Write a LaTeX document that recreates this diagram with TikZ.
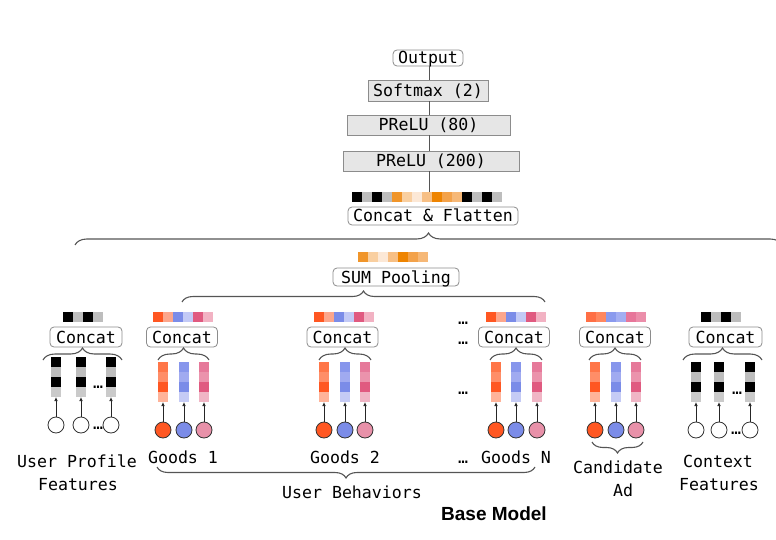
\documentclass[tikz,border=0pt]{standalone}
\usepackage{fontspec}
\setmainfont{DejaVu Sans Mono}
\newfontfamily\basefont{Liberation Sans}
\usetikzlibrary{decorations.pathreplacing,arrows.meta}
\definecolor{lineg}{HTML}{555555}
\definecolor{boxb}{HTML}{8C8C8C}
\definecolor{boxf}{HTML}{E6E6E6}
\definecolor{gy}{HTML}{BDBDBD}
\definecolor{gyl}{HTML}{CACACA}
\definecolor{o1}{HTML}{F0952A}
\definecolor{o2}{HTML}{F9CFA0}
\definecolor{o3}{HTML}{FCE8D6}
\definecolor{o4}{HTML}{F7BF84}
\definecolor{o5}{HTML}{EE8400}
\definecolor{o6}{HTML}{F3A24A}
\definecolor{o7}{HTML}{F6B877}
\definecolor{r1}{HTML}{FF5722}
\definecolor{r2}{HTML}{FCA68C}
\definecolor{b1}{HTML}{7B8CE8}
\definecolor{b2}{HTML}{C3CAF6}
\definecolor{p1}{HTML}{E05A80}
\definecolor{p2}{HTML}{F2B2C3}
\definecolor{ca1}{HTML}{FF6F45}
\definecolor{ca2}{HTML}{FF875F}
\definecolor{ca3}{HTML}{8A9AEE}
\definecolor{ca4}{HTML}{A3AEF2}
\definecolor{ca5}{HTML}{E7769A}
\definecolor{ca6}{HTML}{EB8EAA}
\definecolor{oc1}{HTML}{FF7648}
\definecolor{oc2}{HTML}{FF8E68}
\definecolor{oc3}{HTML}{FF5722}
\definecolor{oc4}{HTML}{FFB399}
\definecolor{bc1}{HTML}{8796EC}
\definecolor{bc2}{HTML}{A0AAF0}
\definecolor{bc3}{HTML}{7B8CE8}
\definecolor{bc4}{HTML}{C5CBF5}
\definecolor{pc1}{HTML}{E6799A}
\definecolor{pc2}{HTML}{EB93AC}
\definecolor{pc3}{HTML}{E05A80}
\definecolor{pc4}{HTML}{F0B5C5}
\definecolor{cr}{HTML}{FF5722}
\definecolor{cb}{HTML}{7B8CE8}
\definecolor{cp}{HTML}{E891A9}
\newcommand\myrow[3]{\foreach \cc [count=\ii from 0] in {#3} {\fill[fill=\cc] ({#1+10*\ii},#2) rectangle ++(10,10);}}
\newcommand\mycol[3]{\foreach \cc [count=\ii from 0] in {#3} {\fill[fill=\cc] (#1,{#2+10*\ii}) rectangle ++(10,10);}}
\newcommand\goodsgroup[9]{%
  \myrow{#2}{312}{#9}
  \node[rbox, minimum width=71pt, minimum height=20pt] (#1cc) at (#3,337) {Concat};
  \draw[brc=12] (#4,360) -- (#5,360);
  \mycol{#6}{362}{oc1,oc2,oc3,oc4}
  \mycol{#7}{362}{bc1,bc2,bc3,bc4}
  \mycol{#8}{362}{pc1,pc2,pc3,pc4}
  \node[fcirc, fill=cr] (#1a) at ({#6+5},430) {};
  \node[fcirc, fill=cb] (#1b) at ({#7+5},430) {};
  \node[fcirc, fill=cp] (#1c) at ({#8+5},430) {};
  \coordinate (#1at) at ({#6+5},402);
  \coordinate (#1bt) at ({#7+5},402);
  \coordinate (#1ct) at ({#8+5},402);
  \draw[arr] (#1a) -- (#1at);
  \draw[arr] (#1b) -- (#1bt);
  \draw[arr] (#1c) -- (#1ct);
}
\begin{document}
\begin{tikzpicture}[x=1pt,y=-1pt,
  font=\fontsize{16.6}{20}\selectfont,
  rbox/.style={draw=boxb, line width=0.8pt, rounded corners=4pt, fill=white, inner sep=0pt, text height=12pt, text depth=0pt},
  gbox/.style={draw=boxb, fill=boxf, line width=0.8pt, inner sep=0pt, text height=12pt, text depth=0pt},
  conn/.style={draw=lineg, line width=0.8pt},
  arr/.style={draw=black!85, line width=0.7pt, -{Latex[length=4pt,width=3.5pt]}},
  brc/.style={draw=lineg, line width=1.1pt, decorate, decoration={brace, amplitude=#1pt}},
  brcd/.style={draw=lineg, line width=1.1pt, decorate, decoration={brace, mirror, amplitude=#1pt}},
  fcirc/.style={circle, draw=black!80, line width=0.8pt, minimum size=16pt, inner sep=0pt},
  dotsn/.style={anchor=base, inner sep=0pt},
  lab/.style={anchor=base, inner sep=0pt}
]
\useasboundingbox (0,0) rectangle (776,540);
% top stack
\node[rbox, minimum width=70pt, minimum height=16pt] (out) at (428,58) {Output};
\node[gbox, minimum width=120pt, minimum height=21pt] (sm) at (428,90.5) {Softmax (2)};
\node[gbox, minimum width=163pt, minimum height=20pt] (p80) at (428.5,125) {PReLU (80)};
\node[gbox, minimum width=176pt, minimum height=20pt] (p200) at (431,161) {PReLU (200)};
\coordinate (cfbar) at (429,192);
\draw[conn] (out.south -| cfbar) -- (sm.north -| cfbar);
\draw[conn] (sm.south -| cfbar) -- (p80.north -| cfbar);
\draw[conn] (p80.south -| cfbar) -- (p200.north -| cfbar);
\draw[conn] (p200.south -| cfbar) -- (cfbar);
\myrow{352}{192}{black,gy,black,gy,o1,o2,o3,o4,o5,o6,o7,black,gy,black,gy}
\node[rbox, minimum width=170pt, minimum height=18pt] (cf) at (433,216) {Concat \& Flatten};
\draw[brc=12] (75,245) -- (782,245);
% sum pooling
\myrow{358}{252}{o1,o2,o3,o4,o5,o6,o7}
\node[rbox, minimum width=126pt, minimum height=18pt] (sum) at (396,277) {SUM Pooling};
\draw[brc=11] (182,302) -- (545,302);
% user profile
\myrow{63}{312}{black,gy,black,gy}
\node[rbox, minimum width=72pt, minimum height=20pt] (cu) at (86,337) {Concat};
\draw[brc=12] (43,360) -- (122,360);
\mycol{51}{357}{black,gy,black,gyl}
\mycol{76}{357}{black,gy,black,gyl}
\mycol{106}{357}{black,gy,black,gyl}
\node[fcirc, fill=white] (u1) at (56,425) {};
\node[fcirc, fill=white] (u2) at (81,425) {};
\node[fcirc, fill=white] (u3) at (111,425) {};
\coordinate (u1t) at (56,397);
\coordinate (u2t) at (81,397);
\coordinate (u3t) at (111,397);
\draw[arr] (u1) -- (u1t);
\draw[arr] (u2) -- (u2t);
\draw[arr] (u3) -- (u3t);
\node[dotsn] (ud1) at (98,388) {…};
\node[dotsn] (ud2) at (98,429) {…};
% goods
\goodsgroup{ga}{153}{182}{158}{209}{158}{179}{199}{r1,r2,b1,b2,p1,p2}
\goodsgroup{gb}{314}{342.5}{319}{371}{319}{340}{360}{r1,r2,b1,b2,p1,p2}
\goodsgroup{gn}{486}{514}{490}{542}{491}{511}{532}{r1,r2,b1,b2,p1,p2}
\goodsgroup{cd}{586}{615}{589}{641}{590}{611}{631}{ca1,ca2,ca3,ca4,ca5,ca6}
\node[dotsn] (nd1) at (463,324) {…};
\node[dotsn] (nd2) at (463,344) {…};
\node[dotsn] (nd3) at (463,394) {…};
% context
\myrow{701}{312}{black,gy,black,gy}
\node[rbox, minimum width=73pt, minimum height=20pt] (cx) at (725.5,337) {Concat};
\draw[brc=12] (683,360) -- (762,360);
\mycol{691}{362}{black,gy,black,gyl}
\mycol{714}{362}{black,gy,black,gyl}
\mycol{745}{362}{black,gy,black,gyl}
\node[fcirc, fill=white] (x1) at (696,430) {};
\node[fcirc, fill=white] (x2) at (719,430) {};
\node[fcirc, fill=white] (x3) at (750,430) {};
\coordinate (x1t) at (696,402);
\coordinate (x2t) at (719,402);
\coordinate (x3t) at (750,402);
\draw[arr] (x1) -- (x1t);
\draw[arr] (x2) -- (x2t);
\draw[arr] (x3) -- (x3t);
\node[dotsn] (xd1) at (737,394) {…};
\node[dotsn] (xd2) at (736,434) {…};
% labels
\node[lab] (l1a) at (77,467) {User Profile};
\node[lab] (l1b) at (78,490) {Features};
\node[lab] (lg1) at (183,463) {Goods 1};
\node[lab] (lg2) at (345,463) {Goods 2};
\node[dotsn] (lgd) at (463,463) {…};
\node[lab] (lgn) at (516,463) {Goods N};
\draw[brcd=11] (157,467) -- (535,467);
\node[lab] (lub) at (352,498) {User Behaviors};
\draw[brcd=11] (592,442) -- (643,442);
\node[lab] (lca) at (618,473) {Candidate};
\node[lab] (lcb) at (623,496) {Ad};
\node[lab] (lcx) at (718,467) {Context};
\node[lab] (lcy) at (719,490) {Features};
\node[lab, font=\basefont\bfseries\fontsize{19}{22}\selectfont] (bm) at (494,520) {Base Model};
\end{tikzpicture}
\end{document}
